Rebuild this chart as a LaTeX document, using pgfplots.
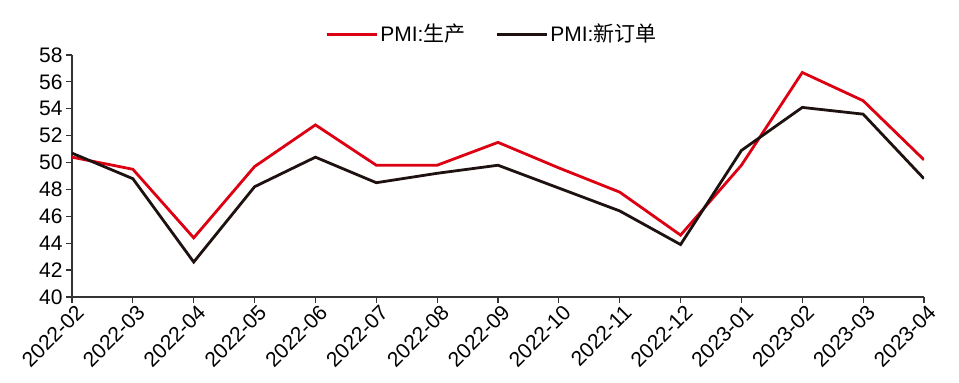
\documentclass[border=0pt]{standalone}
\usepackage{pgfplots}
\pgfplotsset{compat=1.18}
\usepackage{fontspec}
\setmainfont{Liberation Sans}
\newfontfamily\cjk{Noto Sans CJK SC}
\definecolor{cred}{RGB}{220,0,18}
\definecolor{cblk}{RGB}{30,18,16}
\begin{document}
\begin{tikzpicture}
\begin{axis}[
  scale only axis, width=426pt, height=121pt,
  xmin=0, xmax=14, ymin=40, ymax=58,
  ytick={40,42,...,58},
  xtick={0,...,14},
  xticklabels={2022-02,2022-03,2022-04,2022-05,2022-06,2022-07,2022-08,2022-09,2022-10,2022-11,2022-12,2023-01,2023-02,2023-03,2023-04},
  x tick label style={rotate=45, anchor=north east, inner sep=1pt, xshift=2pt},
  y tick label style={inner sep=1.5pt},
  tick label style={font=\fontsize{10.5}{11}\selectfont},
  /pgf/number format/assume math mode=true,
  axis x line*=bottom, axis y line*=left,
  axis line style={black!80, line width=0.6pt},
  tick style={black!80, line width=0.6pt},
  tick align=outside, major tick length=3pt,
  xtick pos=bottom, ytick pos=left,
  separate axis lines,
  x axis line style={-}, y axis line style={-},
  legend style={at={(0.493,1.0)}, anchor=south, yshift=2pt, draw=none, fill=none, legend columns=2, font=\fontsize{10.5}{11}\selectfont, /tikz/every even column/.append style={column sep=14pt}, nodes={inner sep=1pt}},
  legend image code/.code={\draw[#1, line width=1.4pt] (0pt,0pt) -- (25pt,0pt);},
]
\addplot[cred, line width=1.4pt] coordinates {(0,50.4) (1,49.5) (2,44.4) (3,49.7) (4,52.8) (5,49.8) (6,49.8) (7,51.5) (8,49.6) (9,47.8) (10,44.6) (11,49.8) (12,56.7) (13,54.6) (14,50.2)};
\addlegendentry{PMI:{\cjk 生产}}
\addplot[cblk, line width=1.4pt] coordinates {(0,50.7) (1,48.8) (2,42.6) (3,48.2) (4,50.4) (5,48.5) (6,49.2) (7,49.8) (8,48.1) (9,46.4) (10,43.9) (11,50.9) (12,54.1) (13,53.6) (14,48.8)};
\addlegendentry{PMI:{\cjk 新订单}}
\end{axis}
\pgfresetboundingbox
\path[use as bounding box] (-36pt,-43pt) rectangle (443.5pt,148.5pt);
\end{tikzpicture}
\end{document}
